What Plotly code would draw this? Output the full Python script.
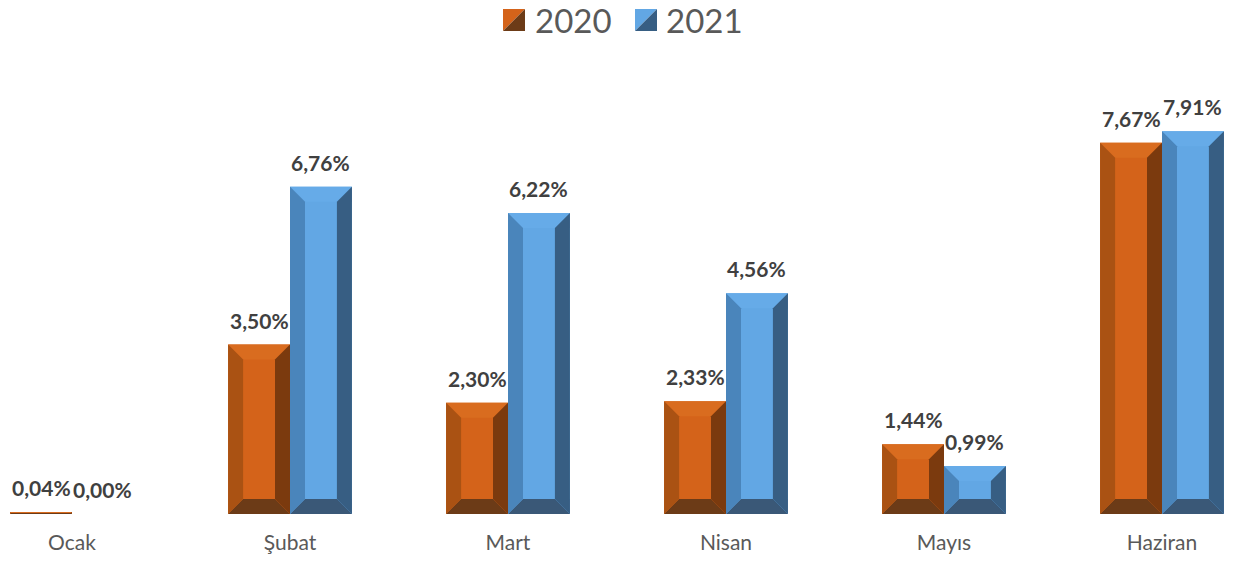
import plotly.graph_objects as go

categories = ["Ocak", "Şubat", "Mart", "Nisan", "Mayıs", "Haziran"]
series_names = ["2020", "2021"]
values_2020 = [0.04, 3.50, 2.30, 2.33, 1.44, 7.67]
values_2021 = [0.00, 6.76, 6.22, 4.56, 0.99, 7.91]

W, H = 1233, 561
ML, MR, MT, MB = 0, 0, 60, 47
PX_PER_CAT = 218.0
X0_PX = 72.0
x_range = [-X0_PX / PX_PER_CAT, (W - X0_PX) / PX_PER_CAT]
PX_PER_UNIT = 48.4
plot_h = H - MT - MB
y_range = [0, plot_h / PX_PER_UNIT]

BAR_W = 0.284
OFFSETS = [-0.142, 0.142]
BEVEL_PX = 15.0
FONT = "Lato, Open Sans, sans-serif"

styles = {
    "2020": dict(face="#D4631A", top="#D96C1F", left="#AA5213", right="#7B3A0E", bottom="#6C3B17"),
    "2021": dict(face="#62A7E4", top="#66ABE8", left="#4A85BB", right="#375E83", bottom="#3A5877"),
}

fig = go.Figure()
shapes = []
annotations = []

for name, vals, off in zip(series_names, [values_2020, values_2021], OFFSETS):
    st = styles[name]
    xs = [i + off for i in range(len(categories))]
    fig.add_trace(go.Bar(
        x=xs, y=vals, width=BAR_W, name=name,
        marker=dict(color=st["face"], line=dict(width=0)),
        showlegend=False,
        hovertemplate="%{y:.2f}%<extra>" + name + "</extra>",
    ))
    for x, v in zip(xs, vals):
        label = f"{v:.2f}".replace(".", ",") + "%"
        annotations.append(dict(
            x=x, y=v, xref="x", yref="y", text="<b>" + label + "</b>",
            showarrow=False, yanchor="bottom", yshift=10,
            font=dict(size=21, color="#404040", family=FONT),
        ))
        if v <= 0:
            continue
        x0, x1 = x - BAR_W / 2, x + BAR_W / 2
        h_px = v * PX_PER_UNIT
        b_px = min(BEVEL_PX, h_px / 2)
        bx = b_px / PX_PER_CAT
        by = b_px / PX_PER_UNIT
        y1 = v
        polys = {
            "top": [(x0, y1), (x1, y1), (x1 - bx, y1 - by), (x0 + bx, y1 - by)],
            "bottom": [(x0, 0), (x1, 0), (x1 - bx, by), (x0 + bx, by)],
            "left": [(x0, 0), (x0 + bx, by), (x0 + bx, y1 - by), (x0, y1)],
            "right": [(x1, 0), (x1 - bx, by), (x1 - bx, y1 - by), (x1, y1)],
        }
        for key, pts in polys.items():
            path = "M " + " L ".join(f"{px:.5f},{py:.5f}" for px, py in pts) + " Z"
            shapes.append(dict(type="path", path=path, xref="x", yref="y",
                               fillcolor=st[key], line=dict(width=0), layer="above"))

# custom legend (icons with diagonal split)
def ypaper(py):
    return (H - MB - py) / plot_h

legend_items = [("2020", 503, 525, 533), ("2021", 635, 657, 664)]
for name, ix0, ix1, tx in legend_items:
    st = styles[name]
    X0, X1 = ix0 / W, ix1 / W
    Y0, Y1 = ypaper(31), ypaper(9)
    shapes.append(dict(type="path", xref="paper", yref="paper",
                       path=f"M {X0},{Y0} L {X0},{Y1} L {X1},{Y1} Z",
                       fillcolor=st["face"], line=dict(width=0)))
    shapes.append(dict(type="path", xref="paper", yref="paper",
                       path=f"M {X0},{Y0} L {X1},{Y0} L {X1},{Y1} Z",
                       fillcolor=st["bottom"] if name == "2020" else st["right"], line=dict(width=0)))
    annotations.append(dict(x=tx / W, y=ypaper(20), xref="paper", yref="paper",
                            text=name, showarrow=False, xanchor="left", yanchor="middle",
                            font=dict(size=33, color="#595959", family=FONT)))

fig.update_layout(
    width=W, height=H,
    margin=dict(l=ML, r=MR, t=MT, b=MB),
    paper_bgcolor="white", plot_bgcolor="white",
    barmode="overlay",
    shapes=shapes, annotations=annotations,
    showlegend=False,
    xaxis=dict(range=x_range, tickvals=list(range(len(categories))), ticktext=categories,
               showgrid=False, zeroline=False, showline=False,
               ticks="outside", ticklen=10, tickcolor="rgba(0,0,0,0)",
               tickfont=dict(size=21, color="#595959", family=FONT)),
    yaxis=dict(range=y_range, visible=False, showgrid=False, zeroline=False),
)

fig.write_html("out.html", config={"displayModeBar": False},
               post_script="document.body.style.margin='0';document.body.style.overflow='hidden';")
